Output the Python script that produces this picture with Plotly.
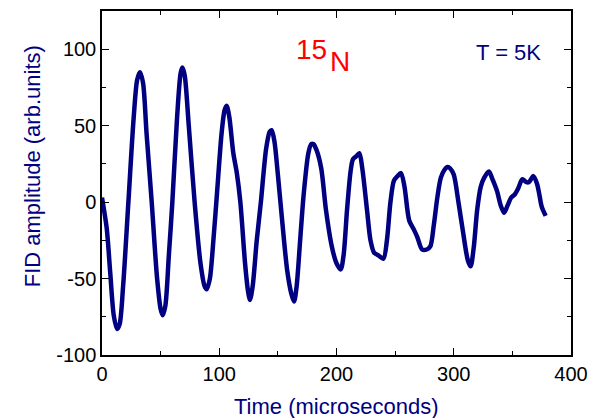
import plotly.graph_objects as go

# FID signal (time in microseconds, amplitude arb. units)
time_us = [0, 4, 7, 10, 12.8, 15, 18, 22.5, 27, 30, 32.4, 35, 38, 42.4, 47, 50, 51.7, 54, 57, 60,
           64, 67, 68.5, 70.5, 74, 79, 84, 87.5, 89.3, 92, 95, 98, 102, 104.5, 106.3, 108.5, 112, 115,
           118, 122, 124.5, 126.2, 128.5, 132, 135.5, 140, 143, 144.7, 147, 150, 154, 158, 161.5,
           163.8, 166, 169, 172, 176, 178.5, 180.2, 183, 187, 191, 196, 200, 203.6, 206, 209, 212,
           214, 217, 219.5, 222, 226, 229, 232, 236, 240, 243, 246, 249, 252, 255, 258, 262, 266,
           269, 273, 277, 280, 283, 286, 289, 292, 294.8, 297, 300, 304, 308, 312, 314.4, 317, 320,
           323, 326, 330, 333, 337, 340, 343, 346, 349, 352, 355, 358.5, 362, 364, 368, 371, 373,
           375, 378.4]
amplitude = [3, -17, -46, -74, -83, -80, -55, 0, 55, 80, 85, 78, 45, 0, -50, -70, -74, -68, -35, 0,
             55, 84, 88, 83, 50, 0, -40, -55, -57, -50, -25, 5, 45, 60, 63, 56, 32, 19,
             0, -40, -58, -64, -55, -25, 0, 35, 46, 47, 40, 18, -15, -45, -60,
             -65, -55, -25, 5, 32, 38, 38, 34, 22, -5, -29, -40, -44, -35, -5, 20,
             28, 30, 32, 22, -5, -25, -33, -35, -37, -25, 0, 14, 17, 19, 10, -12, -18,
             -23, -31, -31, -29, -15, 3, 16, 21, 23, 22, 18, 0, -20, -38, -42, -30, -5,
             10, 16, 20, 15, 7, -2, -7, -2, 3, 5, 9, 15, 13, 13, 17, 12, 5,
             -3, -9]

x_ticks = [0, 100, 200, 300, 400]
y_ticks = [-100, -50, 0, 50, 100]
y_labels = ['-100', '-50', '0', '50', '100']

navy = '#000080'
font = 'Liberation Sans, Arial, sans-serif'

fig = go.Figure()
fig.add_trace(go.Scatter(x=time_us, y=amplitude, mode='lines',
                         line=dict(color=navy, width=4.5, shape='spline', smoothing=0.8),
                         showlegend=False))

axis_style = dict(showline=True, linecolor='black', linewidth=1.5, mirror='ticks',
                  ticks='inside', ticklen=7, tickcolor='black', tickwidth=1.2,
                  showgrid=False, zeroline=False, automargin=False,
                  tickfont=dict(family=font, size=20, color='black'))

fig.update_xaxes(range=[0, 400], tickvals=x_ticks,
                 minor=dict(dtick=50, ticks='inside', ticklen=4, tickcolor='black'),
                 **axis_style)
fig.update_yaxes(range=[-100, 125], tickvals=y_ticks, ticktext=y_labels,
                 minor=dict(dtick=25, ticks='inside', ticklen=4, tickcolor='black'),
                 **axis_style)

# axis titles placed as annotations to match the reference offsets
fig.add_annotation(text='FID amplitude (arb.units)', textangle=-90, xref='paper', yref='paper',
                   x=-0.149, y=0.549, xanchor='center', yanchor='middle', showarrow=False,
                   font=dict(family=font, size=22, color=navy))
fig.add_annotation(text='Time (microseconds)', xref='paper', yref='paper',
                   x=0.5, y=-0.151, xanchor='center', yanchor='middle', showarrow=False,
                   font=dict(family=font, size=22, color=navy))
fig.add_annotation(text='15', x=179, y=100, showarrow=False,
                   font=dict(family=font, size=28, color='red'))
fig.add_annotation(text='N', x=203, y=92, showarrow=False,
                   font=dict(family=font, size=28, color='red'))
fig.add_annotation(text='T = 5K', x=347, y=97.7, showarrow=False,
                   font=dict(family=font, size=22, color=navy))

fig.update_layout(width=589, height=418,
                  margin=dict(l=102, r=18, t=11, b=63, autoexpand=False),
                  plot_bgcolor='white', paper_bgcolor='white',
                  font=dict(family=font))
# drop the page's default body margin so the figure sits at the window corner
fig.write_html('out.html', config={'displayModeBar': False},
               post_script="document.body.style.margin='0';document.body.style.overflow='hidden';")
